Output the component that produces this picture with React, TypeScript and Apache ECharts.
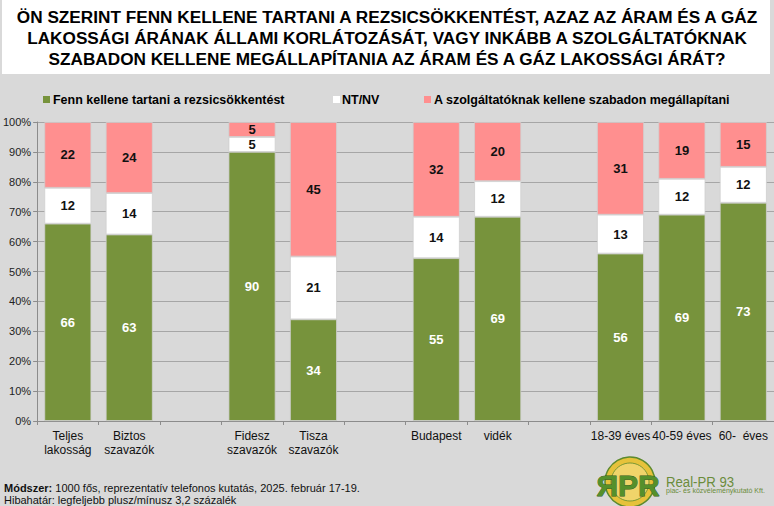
import React, { useEffect, useRef } from "react";
import * as echarts from "echarts";

const categories = [
  "Teljes\nlakosság",
  "Biztos\nszavazók",
  "",
  "Fidesz\nszavazók",
  "Tisza\nszavazók",
  "",
  "Budapest",
  "vidék",
  "",
  "18-39 éves",
  "40-59 éves",
  "60-  éves",
];

const seriesNames = [
  "Fenn kellene tartani a rezsicsökkentést",
  "NT/NV",
  "A szolgáltatóknak kellene szabadon megállapítani",
];

const keepValues = [66, 63, null, 90, 34, null, 55, 69, null, 56, 69, 73];
const dontKnowValues = [12, 14, null, 5, 21, null, 14, 12, null, 13, 12, 12];
const freeValues = [22, 24, null, 5, 45, null, 32, 20, null, 31, 19, 15];

const yTicks = [0, 10, 20, 30, 40, 50, 60, 70, 80, 90, 100];

const colors = ["#77933c", "#ffffff", "#ff8f8f"];
const labelColors = ["#ffffff", "#111111", "#111111"];

const titleText =
  "ÖN SZERINT FENN KELLENE TARTANI A REZSICSÖKKENTÉST, AZAZ AZ ÁRAM ÉS A GÁZ\nLAKOSSÁGI ÁRÁNAK ÁLLAMI KORLÁTOZÁSÁT, VAGY INKÁBB A SZOLGÁLTATÓKNAK\nSZABADON KELLENE MEGÁLLAPÍTANIA AZ ÁRAM ÉS A GÁZ LAKOSSÁGI ÁRÁT?";

const SANS = "'Liberation Sans', Arial, sans-serif";

export default function App() {
  const ref = useRef<HTMLDivElement>(null);

  useEffect(() => {
    if (!ref.current) return;
    const chart = echarts.init(ref.current, undefined, { renderer: "svg" });
    const raw = [keepValues, dontKnowValues, freeValues];
    const totals = categories.map((_, i) => {
      const s = raw.reduce((a, arr) => a + (arr[i] ?? 0), 0);
      return s || 1;
    });

    const series = raw.map((arr, si) => ({
      name: seriesNames[si],
      type: "bar",
      stack: "total",
      barWidth: 47,
      itemStyle: { color: colors[si], borderColor: "#cfcfcf", borderWidth: 0.8 },
      label: {
        show: true,
        position: "inside",
        color: labelColors[si],
        fontFamily: SANS,
        fontWeight: "bold",
        fontSize: 13,
        formatter: (p: any) => (arr[p.dataIndex] == null ? "" : String(arr[p.dataIndex])),
      },
      data: arr.map((v, i) => (v == null ? "-" : (v / totals[i]) * 100)),
    }));

    const legendMarkX = [43, 333, 424];
    const legendTextX = [53, 342, 434];
    const legendGraphics: any[] = [];
    seriesNames.forEach((n, i) => {
      legendGraphics.push({
        type: "rect",
        shape: { x: legendMarkX[i], y: 96, width: 7, height: 7 },
        style: { fill: colors[i] },
      });
      legendGraphics.push({
        type: "text",
        x: legendTextX[i],
        y: 99.5,
        scaleX: 0.96,
        style: {
          text: n,
          fill: "#000",
          font: `bold 13px ${SANS}`,
          verticalAlign: "middle",
        },
      });
    });

    chart.setOption({
      animation: false,
      backgroundColor: "#d9d9d9",
      graphic: [
        {
          type: "rect",
          shape: { x: 2, y: 0, width: 768, height: 74 },
          style: { fill: "#ffffff" },
          z: 0,
        },
        {
          type: "text",
          x: 387,
          y: 6.5,
          style: {
            text: titleText,
            fill: "#000000",
            font: `bold 17.2px ${SANS}`,
            align: "center",
            verticalAlign: "top",
            lineHeight: 21,
          },
        },
        ...legendGraphics,
        {
          type: "text",
          x: 4,
          y: 481.5,
          style: {
            text: "{b|Módszer:} 1000 fős, reprezentatív telefonos kutatás, 2025. február 17-19.\nHibahatár: legfeljebb plusz/mínusz 3,2 százalék",
            fill: "#111111",
            font: `11px ${SANS}`,
            lineHeight: 12.5,
            rich: {
              b: { fontWeight: "bold", fontFamily: SANS, fontSize: 11, fill: "#111", lineHeight: 12.5 },
            },
          },
        },
        {
          type: "circle",
          shape: { cx: 630, cy: 482, r: 25 },
          style: { fill: "#e6c23a", stroke: "#5c8a2e", lineWidth: 1.5 },
        },
        {
          type: "circle",
          shape: { cx: 630, cy: 482, r: 19 },
          style: { fill: "#f0d46a", stroke: "#5c8a2e", lineWidth: 0.8 },
        },
        {
          type: "text",
          x: 628,
          y: 485,
          style: {
            text: "ЯPR",
            fill: "#55902b",
            font: `bold 30px ${SANS}`,
            align: "center",
            verticalAlign: "middle",
            stroke: "#2f5a1a",
            lineWidth: 0.8,
          },
        },
        {
          type: "text",
          x: 666,
          y: 481.5,
          scaleX: 0.85,
          style: {
            text: "Real-PR 93",
            fill: "#6b8c3c",
            font: `15.5px ${SANS}`,
            verticalAlign: "middle",
          },
        },
        {
          type: "text",
          x: 666,
          y: 490,
          style: {
            text: "piac- és közvéleménykutató Kft.",
            fill: "#6b8c3c",
            font: `7px ${SANS}`,
            verticalAlign: "middle",
          },
        },
      ],
      grid: { left: 33, right: 0, top: 122, bottom: 85, containLabel: false },
      xAxis: {
        type: "category",
        data: categories,
        axisLine: { show: true, lineStyle: { color: "#8c8c8c", width: 1 } },
        axisTick: { show: true, length: 4, interval: 0, lineStyle: { color: "#8c8c8c" } },
        axisLabel: {
          interval: 0,
          color: "#111",
          fontFamily: SANS,
          fontSize: 12,
          lineHeight: 14,
          margin: 8,
        },
      },
      yAxis: {
        type: "value",
        min: yTicks[0],
        max: yTicks[yTicks.length - 1],
        interval: 10,
        axisLine: { show: true, lineStyle: { color: "#8c8c8c", width: 1 } },
        axisTick: { show: true, length: 4, lineStyle: { color: "#8c8c8c" } },
        axisLabel: {
          formatter: "{value}%",
          color: "#222",
          fontFamily: SANS,
          fontSize: 11,
          margin: 6,
        },
        splitLine: { show: true, lineStyle: { color: "#a6a6a6", width: 1 } },
      },
      series,
    });
    return () => chart.dispose();
  }, []);

  return (
    <div
      ref={ref}
      style={{ position: "absolute", left: 0, top: 0, width: 774, height: 506 }}
    />
  );
}
